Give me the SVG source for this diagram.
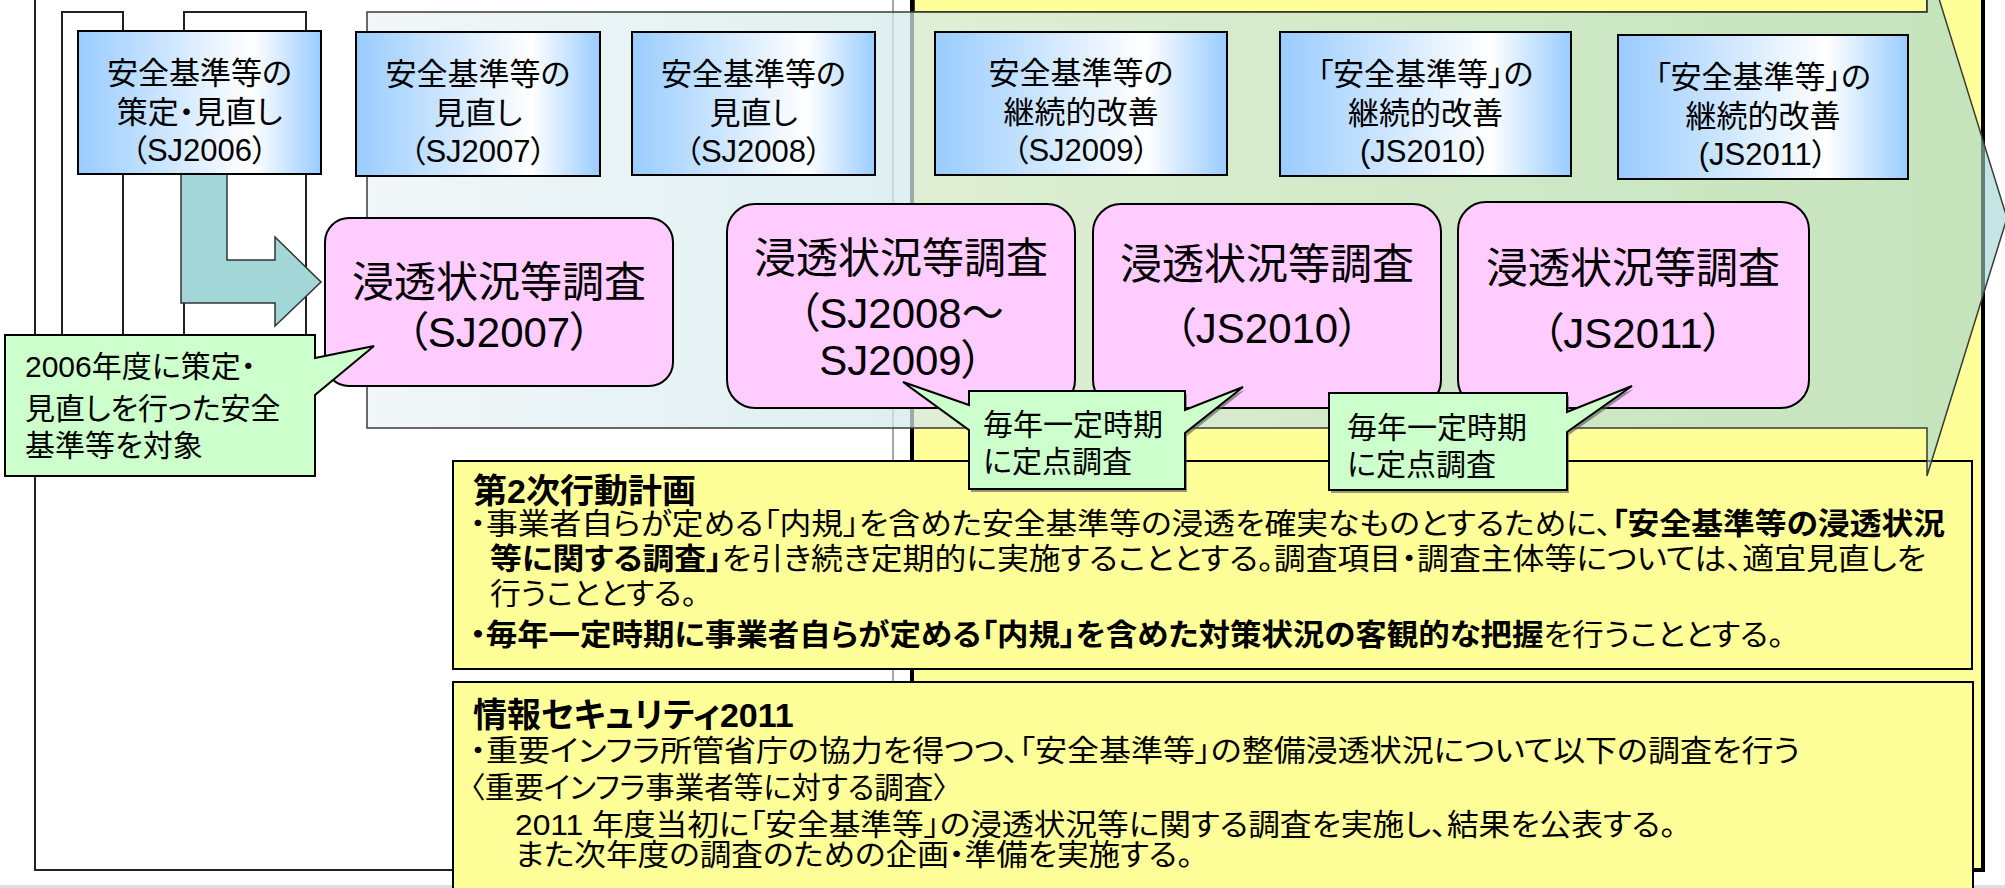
<svg xmlns="http://www.w3.org/2000/svg" width="2005" height="888" viewBox="0 0 2005 888">
<defs>
<linearGradient id="gBlue" x1="0" y1="0" x2="1" y2="0">
<stop offset="0" stop-color="#99CCFF"/>
<stop offset="0.72" stop-color="#FFFFFF"/>
<stop offset="1" stop-color="#99CCFF"/>
</linearGradient>
<linearGradient id="gArrow" gradientUnits="userSpaceOnUse" x1="367" y1="0" x2="2007" y2="0">
<stop offset="0" stop-color="#EEF5F7" stop-opacity="0.8"/>
<stop offset="1" stop-color="#9ED2D2" stop-opacity="0.6"/>
</linearGradient>
<style>
text{font-family:"Liberation Sans","Noto Sans CJK JP",sans-serif;fill:#000;font-feature-settings:"palt";}
.blue{fill:url(#gBlue);stroke:#000;stroke-width:2;}
.pink{fill:#FFCCFF;stroke:#000;stroke-width:2;}
.green{fill:#CCFFCC;stroke:#000;stroke-width:2;}
.shadow{fill:#555;opacity:0.6;}
.ybox{fill:#FFFF99;stroke:#000;stroke-width:2;}
.bt{font-size:31px;text-anchor:middle;}
.pt{font-size:42px;text-anchor:middle;}
.ct{font-size:30px;}
.yt{font-size:29.5px;}
.title{font-size:34px;font-weight:bold;}
.b{font-weight:bold;}
.line{fill:none;stroke:#222;stroke-width:2;}
</style>
</defs>
<rect x="0" y="885" width="2005" height="3" fill="#DCDCE6"/>
<g id="left-frame">
<rect x="35" y="-10" width="858" height="880" fill="#FFFFFF"/>
<path class="line" d="M35,-10 V870 H893"/>
<path d="M893,-10 V870" fill="none" stroke="#888" stroke-width="1.5"/>
<path class="line" d="M62,345 V12 H123 V345" fill="#FFFFFF"/>
<path class="line" d="M184,345 V12 H306 V345" fill="#FFFFFF"/>
</g>
<g id="yellow-region">
<rect x="912" y="-10" width="1071" height="880" fill="#FFFF99" stroke="#000" stroke-width="4"/>
<rect x="914" y="-30" width="1013" height="42" fill="#FFFF99" stroke="#000" stroke-width="1.5"/>
</g>
<g id="plan2">
<rect class="ybox" x="453" y="461" width="1519" height="208"/>
<text class="title" x="473" y="503">第2次行動計画</text>
<text class="yt" x="470" y="534" textLength="1475" lengthAdjust="spacingAndGlyphs">・事業者自らが定める「内規」を含めた安全基準等の浸透を確実なものとするために、<tspan class="b">「安全基準等の浸透状況</tspan></text>
<text class="yt" x="490" y="569" textLength="1436" lengthAdjust="spacingAndGlyphs"><tspan class="b">等に関する調査」</tspan>を引き続き定期的に実施することとする。調査項目・調査主体等については、適宜見直しを</text>
<text class="yt" x="490" y="604" textLength="207" lengthAdjust="spacingAndGlyphs">行うこととする。</text>
<text class="yt" x="470" y="645" textLength="1314" lengthAdjust="spacingAndGlyphs"><tspan class="b">・毎年一定時期に事業者自らが定める「内規」を含めた対策状況の客観的な把握</tspan>を行うこととする。</text>
</g>
<g id="infosec2011">
<rect class="ybox" x="453" y="682" width="1520" height="240"/>
<text class="title" x="473" y="727">情報セキュリティ2011</text>
<text class="yt" x="470" y="761" textLength="1330" lengthAdjust="spacingAndGlyphs">・重要インフラ所管省庁の協力を得つつ、「安全基準等」の整備浸透状況について以下の調査を行う</text>
<text class="yt" x="470" y="798">〈重要インフラ事業者等に対する調査〉</text>
<text class="yt" x="515" y="835" textLength="1161" lengthAdjust="spacingAndGlyphs">2011 年度当初に「安全基準等」の浸透状況等に関する調査を実施し、結果を公表する。</text>
<text class="yt" x="515" y="865" textLength="678" lengthAdjust="spacingAndGlyphs">また次年度の調査のための企画・準備を実施する。</text>
</g>
<g id="timeline-arrow">
<path d="M367,12 H1927 V-40 L2007,218 L1927,476 V428 H367 Z" fill="url(#gArrow)" stroke="#3A3A3A" stroke-width="1.5"/>
</g>
<g id="connectors">
<path d="M181,174 H227 V260 H275 V237 L321,282 L275,326 V303 H181 Z" fill="#A3D6D6" stroke="#333" stroke-width="1.5"/>
</g>
<g id="sj2006">
<rect class="blue" x="78" y="31" width="243" height="143"/>
<text class="bt" x="199.5" y="84">安全基準等の</text>
<text class="bt" x="199.5" y="123">策定・見直し</text>
<text class="bt" x="199.5" y="161">（SJ2006）</text>
</g>
<g id="sj2007">
<rect class="blue" x="356" y="32" width="244" height="144"/>
<text class="bt" x="478" y="85">安全基準等の</text>
<text class="bt" x="478" y="124">見直し</text>
<text class="bt" x="478" y="162">（SJ2007）</text>
</g>
<g id="sj2008">
<rect class="blue" x="632" y="32" width="243" height="143"/>
<text class="bt" x="753.5" y="85">安全基準等の</text>
<text class="bt" x="753.5" y="124">見直し</text>
<text class="bt" x="753.5" y="162">（SJ2008）</text>
</g>
<g id="sj2009">
<rect class="blue" x="935" y="32" width="292" height="143"/>
<text class="bt" x="1081" y="84">安全基準等の</text>
<text class="bt" x="1081" y="123">継続的改善</text>
<text class="bt" x="1081" y="161">（SJ2009）</text>
</g>
<g id="js2010">
<rect class="blue" x="1280" y="32" width="291" height="144"/>
<text class="bt" x="1425.5" y="85">「安全基準等」の</text>
<text class="bt" x="1425.5" y="124">継続的改善</text>
<text class="bt" x="1425.5" y="162">(JS2010）</text>
</g>
<g id="js2011">
<rect class="blue" x="1618" y="35" width="290" height="144"/>
<text class="bt" x="1763" y="88">「安全基準等」の</text>
<text class="bt" x="1763" y="127">継続的改善</text>
<text class="bt" x="1763" y="165">(JS2011）</text>
</g>
<g id="survey-sj2007">
<rect class="pink" x="325" y="218" width="348" height="168" rx="24"/>
<text class="pt" x="499" y="297">浸透状況等調査</text>
<text class="pt" x="499" y="347">（SJ2007）</text>
</g>
<g id="survey-sj2008-2009">
<rect class="pink" x="727" y="204" width="348" height="204" rx="28"/>
<text class="pt" x="901" y="273">浸透状況等調査</text>
<text class="pt" x="901" y="328">（SJ2008～</text>
<text class="pt" x="901" y="375">SJ2009）</text>
</g>
<g id="survey-js2010">
<rect class="pink" x="1093" y="204" width="348" height="204" rx="28"/>
<text class="pt" x="1267" y="279">浸透状況等調査</text>
<text class="pt" x="1267" y="343">（JS2010）</text>
</g>
<g id="survey-js2011">
<rect class="pink" x="1458" y="202" width="351" height="206" rx="28" stroke-width="4"/>
<text class="pt" x="1633" y="283">浸透状況等調査</text>
<text class="pt" x="1633" y="348">（JS2011）</text>
</g>
<g id="note-2006">
<path class="green" d="M5,335 H315 V358 L374,346 L315,395 V476 H5 Z"/>
<text class="ct" x="25" y="377">2006年度に策定・</text>
<text class="ct" x="25" y="419">見直しを行った安全</text>
<text class="ct" x="25" y="456">基準等を対象</text>
</g>
<g id="note-fixed-1">
<path class="shadow" transform="translate(2,3)" d="M969,391 H1185 V410 L1243,387 L1185,433 V489 H969 V430 L903,382 L969,405 Z"/>
<path class="green" d="M969,391 H1185 V410 L1243,387 L1185,433 V489 H969 V430 L903,382 L969,405 Z"/>
<text class="ct" x="983" y="435">毎年一定時期</text>
<text class="ct" x="983" y="472">に定点調査</text>
</g>
<g id="note-fixed-2">
<path class="shadow" transform="translate(2,3)" d="M1329,393 H1567 V412 L1632,386 L1567,432 V490 H1329 Z"/>
<path class="green" d="M1329,393 H1567 V412 L1632,386 L1567,432 V490 H1329 Z"/>
<text class="ct" x="1347" y="438">毎年一定時期</text>
<text class="ct" x="1347" y="475">に定点調査</text>
</g>
</svg>
